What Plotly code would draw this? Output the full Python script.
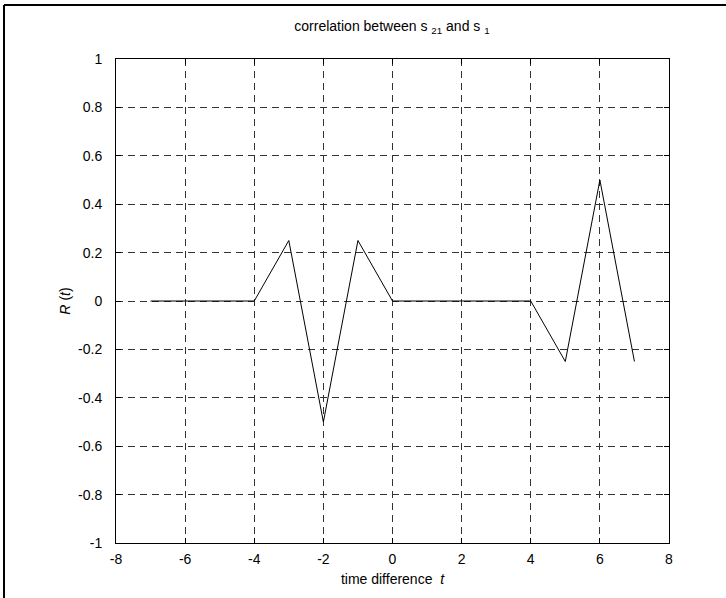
import plotly.graph_objects as go

# Cross-correlation of s21 with s1 at integer lags
lags = [-7, -6, -5, -4, -3, -2, -1, 0, 1, 2, 3, 4, 5, 6, 7]
corr = [0, 0, 0, 0, 0.25, -0.5, 0.25, 0, 0, 0, 0, 0, -0.25, 0.5, -0.25]

x_ticks = [-8, -6, -4, -2, 0, 2, 4, 6, 8]
y_ticks = [-1, -0.8, -0.6, -0.4, -0.2, 0, 0.2, 0.4, 0.6, 0.8, 1]
y_tick_text = ["-1", "-0.8", "-0.6", "-0.4", "-0.2", "0", "0.2", "0.4", "0.6", "0.8", "1"]

W, H = 726, 598
L, R, T, B = 116, 57, 59, 55
pw, ph = W - L - R, H - T - B

FONT = "Liberation Sans, Arial"

fig = go.Figure()
fig.add_trace(go.Scatter(
    x=lags, y=corr, mode="lines",
    line=dict(color="black", width=1),
    showlegend=False, hoverinfo="x+y",
))

axis_common = dict(
    showline=True, linecolor="black", linewidth=1, mirror="ticks",
    ticks="inside", ticklen=5, tickcolor="black",
    showgrid=True, gridcolor="#333333", gridwidth=1, griddash="7px,5px",
    zeroline=False,
    tickfont=dict(family=FONT, size=14, color="black"),
)

fig.update_xaxes(
    range=[-8, 8], tickvals=x_ticks, ticktext=[str(v) for v in x_ticks],
    title=dict(text="time difference  <i>t</i>", standoff=8,
               font=dict(family=FONT, size=14, color="black")),
    ticklabelstandoff=3,
    **axis_common,
)
fig.update_yaxes(
    range=[-1, 1], tickvals=y_ticks, ticktext=y_tick_text,
    title=dict(text="<i>R</i> (<i>t</i>)", standoff=4,
               font=dict(family=FONT, size=14, color="black")),
    ticklabelstandoff=10,
    **axis_common,
)

# outer figure frame (top and left edges)
fx0 = (4 - L) / pw
fy1 = (H - B - 5) / ph
fig.add_shape(type="line", xref="paper", yref="paper",
              x0=fx0, x1=(W - L) / pw, y0=fy1, y1=fy1,
              line=dict(color="black", width=2))
fig.add_shape(type="line", xref="paper", yref="paper",
              x0=fx0, x1=fx0, y0=fy1, y1=-B / ph,
              line=dict(color="black", width=2))

fig.update_layout(
    width=W, height=H,
    margin=dict(l=L, r=R, t=T, b=B),
    paper_bgcolor="white", plot_bgcolor="white",
    title=dict(
        text="correlation between s <sub>21</sub> and s <sub>1</sub>",
        x=392 / W, xanchor="center", y=1 - 26 / H, yanchor="middle",
        font=dict(family=FONT, size=14, color="black"),
    ),
)

fig.write_html("out.html")
